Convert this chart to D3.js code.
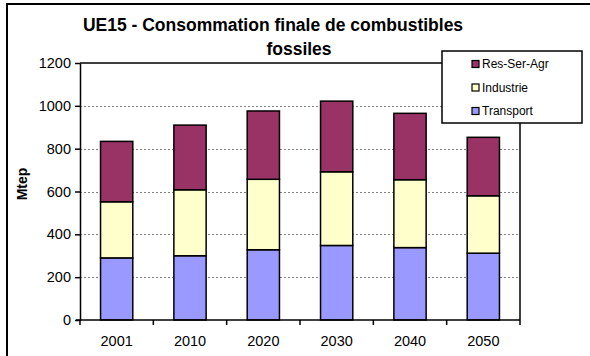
<!DOCTYPE html>
<html>
<head>
<meta charset="utf-8">
<script src="https://cdn.jsdelivr.net/npm/d3@7/dist/d3.min.js"></script>
<style>
  html, body { margin: 0; padding: 0; background: #fff; }
  svg { display: block; font-family: "Liberation Sans", Arial, sans-serif; }
</style>
</head>
<body>
<svg id="chart" width="590" height="356"></svg>
<script>
// Final fossil fuel consumption, EU15 (Mtep)
const years = ["2001", "2010", "2020", "2030", "2040", "2050"];
const transport = [290, 300, 328, 348, 338, 312];
const industrie = [262, 308, 329, 344, 317, 268];
const resSerAgr = [282, 302, 319, 330, 310, 273];
const seriesNames = ["Transport", "Industrie", "Res-Ser-Agr"];
const seriesColors = ["#9999FF", "#FFFFCC", "#993366"];
const yTicks = [0, 200, 400, 600, 800, 1000, 1200];

const FONT = "'Liberation Sans', Arial, sans-serif";
const svg = d3.select("#chart");

// outer chart frame
svg.append("rect")
  .attr("x", 7).attr("y", 4).attr("width", 620).attr("height", 400)
  .attr("fill", "#fff").attr("stroke", "#000").attr("stroke-width", 2);

const plot = { left: 80, right: 520, top: 63, bottom: 320 };

const x = d3.scaleBand().domain(years)
  .range([plot.left, plot.right]).paddingInner(0.56).paddingOuter(0.28);
const y = d3.scaleLinear().domain([0, 1200]).range([plot.bottom, plot.top]);

// dotted gridlines
svg.append("g").selectAll("line")
  .data(yTicks.filter(v => v > 0 && v < 1200))
  .join("line")
  .attr("x1", plot.left).attr("x2", plot.right)
  .attr("y1", d => Math.round(y(d)) + 0.5).attr("y2", d => Math.round(y(d)) + 0.5)
  .attr("stroke", "#808080").attr("stroke-width", 1).attr("stroke-dasharray", "2,2");

// plot border (top and right)
svg.append("path")
  .attr("d", `M${plot.left},${y(1200)}H${plot.right}V${plot.bottom}`)
  .attr("fill", "none").attr("stroke", "#000").attr("stroke-width", 1.5);

// stacked bars
const rows = years.map((yr, i) => ({
  year: yr, Transport: transport[i], Industrie: industrie[i], "Res-Ser-Agr": resSerAgr[i]
}));
const stacked = d3.stack().keys(seriesNames)(rows);

svg.append("g").selectAll("g")
  .data(stacked)
  .join("g")
  .attr("fill", (d, i) => seriesColors[i])
  .selectAll("rect")
  .data(d => d)
  .join("rect")
  .attr("x", d => x(d.data.year))
  .attr("width", x.bandwidth())
  .attr("y", d => y(d[1]))
  .attr("height", d => y(d[0]) - y(d[1]))
  .attr("stroke", "#000").attr("stroke-width", 1.5);

// y axis
const yAxis = svg.append("g")
  .attr("transform", `translate(${plot.left},0)`)
  .call(d3.axisLeft(y).tickValues(yTicks).tickFormat(d3.format("d"))
    .tickSize(5).tickSizeOuter(0).tickPadding(4));
yAxis.select(".domain").attr("stroke", "#000").attr("stroke-width", 1.5);
yAxis.selectAll(".tick line").attr("stroke", "#000").attr("stroke-width", 1.5);
yAxis.selectAll("text").attr("font-size", 14.5).attr("fill", "#000")
  .attr("font-family", FONT);

// x axis with ticks between categories
const xAxis = svg.append("g")
  .attr("transform", `translate(0,${plot.bottom})`)
  .call(d3.axisBottom(x).tickSize(0).tickPadding(16));
xAxis.select(".domain").remove();
xAxis.append("line")
  .attr("x1", plot.left - 4).attr("x2", plot.right)
  .attr("stroke", "#000").attr("stroke-width", 1.5);
const bounds = d3.range(years.length + 1).map(i => plot.left + i * (plot.right - plot.left) / years.length);
xAxis.selectAll(".sep").data(bounds).join("line")
  .attr("class", "sep")
  .attr("x1", d => d).attr("x2", d => d).attr("y1", 0).attr("y2", 5)
  .attr("stroke", "#000").attr("stroke-width", 1.5);
xAxis.selectAll("text").attr("font-size", 14.5).attr("fill", "#000")
  .attr("font-family", FONT);

// axis title
svg.append("text")
  .attr("transform", "translate(27,184) rotate(-90)")
  .attr("text-anchor", "middle")
  .attr("font-family", FONT)
  .attr("font-size", 14).attr("font-weight", "bold")
  .text("Mtep");

// chart title
svg.append("text")
  .attr("x", 273).attr("y", 31)
  .attr("text-anchor", "middle")
  .attr("font-family", FONT)
  .attr("font-size", 17.5).attr("font-weight", "bold")
  .text("UE15 - Consommation finale de combustibles");
svg.append("text")
  .attr("x", 299).attr("y", 55)
  .attr("text-anchor", "middle")
  .attr("font-family", FONT)
  .attr("font-size", 17.5).attr("font-weight", "bold")
  .text("fossiles");

// legend
const legend = svg.append("g");
legend.append("rect")
  .attr("x", 442).attr("y", 51).attr("width", 140).attr("height", 72)
  .attr("fill", "#fff").attr("stroke", "#000").attr("stroke-width", 1.5);
const legendItems = seriesNames.map((n, i) => ({ name: n, color: seriesColors[i] })).reverse();
const li = legend.selectAll("g.item").data(legendItems).join("g")
  .attr("class", "item")
  .attr("transform", (d, i) => `translate(472,${64 + i * 23.5})`);
li.append("rect")
  .attr("x", 0).attr("y", -3.5).attr("width", 7).attr("height", 7)
  .attr("fill", d => d.color).attr("stroke", "#000").attr("stroke-width", 1.2);
li.append("text")
  .attr("x", 10).attr("y", 0).attr("dy", "0.35em")
  .attr("font-family", FONT)
  .attr("font-size", 12)
  .text(d => d.name);
</script>
</body>
</html>
